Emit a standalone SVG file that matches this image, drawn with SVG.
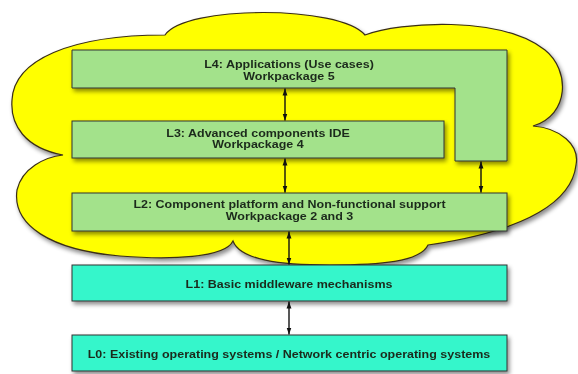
<svg xmlns="http://www.w3.org/2000/svg" width="578" height="374" viewBox="0 0 578 374">
<defs>
<filter id="sh" x="-10%" y="-10%" width="130%" height="140%">
<feDropShadow dx="2" dy="3" stdDeviation="2" flood-color="#000" flood-opacity="0.45"/>
</filter>
<marker id="ah" viewBox="0 0 10 10" refX="10" refY="5" markerWidth="7" markerHeight="7" orient="auto-start-reverse" markerUnits="userSpaceOnUse">
<path d="M0,1.5 L10,5 L0,8.5 Z" fill="#111"/>
</marker>
<style>
.cloud{fill:#ffff00;stroke:#3a2e18;stroke-width:1.2}
.g{fill:#a3e28b;stroke:#333;stroke-width:1}
.c{fill:#34f6cb;stroke:#333;stroke-width:1}
.t{font-family:"Liberation Sans",Arial,sans-serif;font-weight:bold;font-size:12.5px;fill:#1c2a1c;text-anchor:middle}
.a{stroke:#111;stroke-width:1.4;fill:none;marker-start:url(#ah);marker-end:url(#ah)}
</style>
</defs>
<rect width="578" height="374" fill="#fff"/>
<g id="cloud" filter="url(#sh)">
<path class="cloud" d="M63,155 C25,148 10,125 12,100 C14,60 70,35 165,35 C185,5 340,5 365,35 C400,22 500,15 545,50 C570,70 570,115 533,126 C560,128 580,145 576,165 C572,200 530,230 428,245 C420,262 380,265 330,265 C280,265 240,260 233,241 C225,258 170,260 120,256 C50,250 12,225 17,190 C22,168 45,157 63,155 Z"/>
</g>
<g id="L4" filter="url(#sh)">
<path class="g" d="M72,50 H507 V161 H455 V88 H72 Z"/>
<text class="t" transform="matrix(1,0,0,0.82,289,68.3)">L4: Applications (Use cases)</text>
<text class="t" transform="matrix(1,0,0,0.82,289,80)">Workpackage 5</text>
</g>
<g id="L3" filter="url(#sh)">
<rect class="g" x="72" y="121" width="372" height="37"/>
<text class="t" transform="matrix(1,0,0,0.82,258,136.7)">L3: Advanced components IDE</text>
<text class="t" transform="matrix(1,0,0,0.82,258,148.3)">Workpackage 4</text>
</g>
<g id="L2" filter="url(#sh)">
<rect class="g" x="72" y="193" width="435" height="38"/>
<text class="t" transform="matrix(1,0,0,0.82,289.5,208.3)">L2: Component platform and Non-functional support</text>
<text class="t" transform="matrix(1,0,0,0.82,289.5,219.8)">Workpackage 2 and 3</text>
</g>
<g id="L1" filter="url(#sh)">
<rect class="c" x="72" y="265" width="435" height="36"/>
<text class="t" transform="matrix(1,0,0,0.82,289,288.3)">L1: Basic middleware mechanisms</text>
</g>
<g id="L0" filter="url(#sh)">
<rect class="c" x="72" y="335" width="435" height="36"/>
<text class="t" transform="matrix(1,0,0,0.82,289,358.3)">L0: Existing operating systems / Network centric operating systems</text>
</g>
<g id="connectors">
<line class="a" x1="285" y1="88.5" x2="285" y2="120.5"/>
<line class="a" x1="285" y1="158.5" x2="285" y2="192.5"/>
<line class="a" x1="481" y1="161.5" x2="481" y2="192.5"/>
<line class="a" x1="289" y1="231.5" x2="289" y2="264.5"/>
<line class="a" x1="289" y1="301.5" x2="289" y2="334.5"/>
</g>
</svg>
